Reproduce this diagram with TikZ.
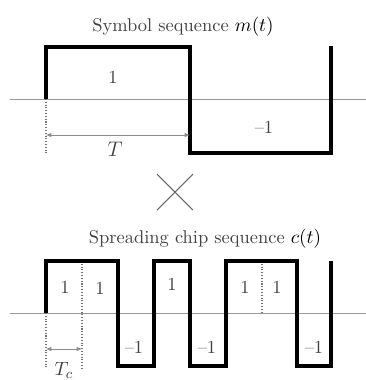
\documentclass[tikz,border=0pt]{standalone}
\usetikzlibrary{positioning, arrows.meta}
\begin{document}
\begin{tikzpicture}[x=0.02cm, y=-0.02cm, font=\fontsize{10.5}{12}\selectfont,
  wave/.style={line width=1.9pt, black, line join=miter},
  axis/.style={black!40, line width=0.5pt},
  guide/.style={densely dotted, black!55, line width=0.6pt},
  span/.style={{Latex[length=3pt,width=2.5pt]}-{Latex[length=3pt,width=2.5pt]}, black!45, line width=0.4pt},
  lbl/.style={text=black!75}]

\useasboundingbox (0,0) rectangle (366,380);

% Symbol sequence
\node[lbl] (mtitle) at (183,27) {Symbol sequence \textcolor{black}{$m(t)$}};

\draw[axis] (10,99) -- (366,99);
\draw[wave] (46,99) -- (46,47) -- (190,47) -- (190,153) -- (331,153) -- (331,46);

\node[lbl] (m1) at (113,77) {1};
\node[lbl] (m2) at (264,127) {--1};

\draw[guide] (46,99) -- (46,153);
\coordinate (ta) at (46,135);
\coordinate (tb) at (190,135);
\draw[span] (ta) -- (tb);
\node[lbl, font=\fontsize{12}{14}\selectfont] (tlab) at (115,149) {$T$};

% Multiply
\draw[black!60, line width=0.6pt] (157,174) -- (193,210);
\draw[black!60, line width=0.6pt] (157,210) -- (193,174);

% Spreading chip sequence
\node[lbl] (ctitle) at (205,239) {Spreading chip sequence \textcolor{black}{$c(t)$}};

\draw[axis] (10,313) -- (366,313);
\draw[guide] (82,261) -- (82,368);
\draw[guide] (262,261) -- (262,313);
\draw[guide] (46,313) -- (46,368);
\draw[wave] (46,313) -- (46,261) -- (118,261) -- (118,366) -- (154,366) -- (154,261)
  -- (190,261) -- (190,366) -- (226,366) -- (226,261) -- (297,261) -- (297,366)
  -- (331,366) -- (331,261);

\node[lbl] (c1) at (65,287) {1};
\node[lbl] (c2) at (100,288) {1};
\node[lbl] (c3) at (134,347) {--1};
\node[lbl] (c4) at (172,284) {1};
\node[lbl] (c5) at (207,347) {--1};
\node[lbl] (c6) at (245,287) {1};
\node[lbl] (c7) at (277,287) {1};
\node[lbl] (c8) at (314,347) {--1};

\coordinate (tca) at (46,349);
\coordinate (tcb) at (82,349);
\draw[span] (tca) -- (tcb);
\node[lbl, inner sep=0pt, anchor=south, font=\fontsize{11}{13}\selectfont] (tclab) at (64,379) {$T_c$};

\end{tikzpicture}
\end{document}
